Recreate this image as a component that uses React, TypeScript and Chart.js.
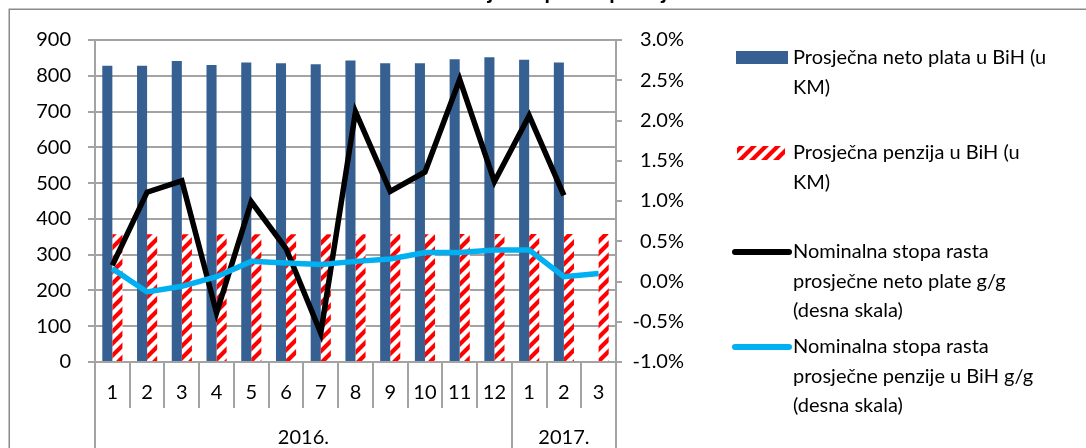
import React, { useEffect, useRef } from 'react';
import { Chart, registerables } from 'chart.js';

Chart.register(...registerables);

// ---------- data ----------
const months = ['1', '2', '3', '4', '5', '6', '7', '8', '9', '10', '11', '12', '1', '2', '3'];
const years = ['2016.', '2017.'];
const yearSpans = [12, 3];

const netWage = [828, 828, 841, 830, 837, 835, 832, 843, 835, 835, 846, 852, 845, 837, null];
const pension = [357, 357, 357, 357, 357, 357, 357, 357, 357, 357, 358, 358, 358, 358, 358];
const wageGrowth = [0.2, 1.11, 1.25, -0.39, 0.99, 0.41, -0.64, 2.11, 1.12, 1.36, 2.51, 1.24, 2.06, 1.07, null];
const pensionGrowth = [0.16, -0.13, -0.06, 0.06, 0.25, 0.23, 0.21, 0.25, 0.28, 0.36, 0.36, 0.39, 0.39, 0.06, 0.1];

const leftAxis = [0, 900, 100]; // min, max, step
const rightAxis = [-1, 3, 0.5];

const seriesLabels = [
  ['Prosječna neto plata u BiH (u', 'KM)'],
  ['Prosječna penzija u BiH (u', 'KM)'],
  ['Nominalna stopa rasta', 'prosječne neto plate g/g', '(desna skala)'],
  ['Nominalna stopa rasta', 'prosječne penzije u BiH g/g', '(desna skala)'],
];
const titleText = 'Prosječna plata i penzija u BiH';

// ---------- styles ----------
const FONT = 'Lato, "Noto Sans", sans-serif';
const BLUE = '#376092';
const RED = '#ff0000';
const BLACK = '#000000';
const CYAN = '#00b0f0';
const GRID = '#a3a3a3';

function makeHatch(): CanvasPattern | string {
  const c = document.createElement('canvas');
  c.width = 12;
  c.height = 12;
  const g = c.getContext('2d');
  if (!g) return RED;
  g.fillStyle = '#ffffff';
  g.fillRect(0, 0, 12, 12);
  g.strokeStyle = RED;
  g.lineWidth = 4.2;
  g.beginPath();
  g.moveTo(-3, 15);
  g.lineTo(15, -3);
  g.moveTo(-9, 9);
  g.lineTo(9, -9);
  g.moveTo(3, 21);
  g.lineTo(21, 3);
  g.stroke();
  return g.createPattern(c, 'repeat') || RED;
}

export default function App() {
  const ref = useRef<HTMLCanvasElement>(null);

  useEffect(() => {
    const canvas = ref.current;
    if (!canvas) return;
    const hatch = makeHatch();

    const decor = {
      id: 'decor',
      afterDraw(chart: any) {
        const { ctx, chartArea } = chart;
        const xs = chart.scales.x;
        ctx.save();

        // outer frame
        ctx.strokeStyle = '#8a8a8a';
        ctx.lineWidth = 1.5;
        ctx.strokeRect(9.25, 9.25, 2000, 2000);

        // title (cut off at the top)
        ctx.fillStyle = '#000';
        ctx.font = `bold 22px ${FONT}`;
        ctx.textAlign = 'left';
        ctx.textBaseline = 'alphabetic';
        const pre = ctx.measureText('Prosje').width;
        ctx.fillText(titleText, 505 - pre, -1.5);

        // year level of the category axis
        const half = (xs.getPixelForValue(1) - xs.getPixelForValue(0)) / 2;
        const edges = [xs.getPixelForValue(0) - half];
        let acc = 0;
        yearSpans.forEach((n) => {
          acc += n;
          edges.push(xs.getPixelForValue(acc - 1) + half);
        });
        ctx.strokeStyle = GRID;
        ctx.lineWidth = 2;
        edges.forEach((e) => {
          ctx.beginPath();
          ctx.moveTo(Math.round(e), chartArea.bottom);
          ctx.lineTo(Math.round(e), chart.height);
          ctx.stroke();
        });
        ctx.fillStyle = '#000';
        ctx.font = `20px ${FONT}`;
        ctx.textAlign = 'center';
        ctx.textBaseline = 'middle';
        years.forEach((yr, i) => {
          ctx.fillText(yr, (edges[i] + edges[i + 1]) / 2, chartArea.bottom + 76);
        });

        // legend
        const itemY = [58, 153, 252, 347];
        const lineGap = 29.5;
        const fills = [BLUE, hatch, BLACK, CYAN];
        seriesLabels.forEach((lines, i) => {
          const y = itemY[i];
          if (i === 0) {
            ctx.fillStyle = BLUE;
            ctx.fillRect(736, y - 7, 52, 13);
          } else if (i === 1) {
            ctx.fillStyle = fills[1];
            ctx.fillRect(737, y - 7, 48, 14);
          } else {
            ctx.strokeStyle = fills[i] as string;
            ctx.lineWidth = 6;
            ctx.lineCap = 'round';
            ctx.beginPath();
            ctx.moveTo(735, y);
            ctx.lineTo(789, y);
            ctx.stroke();
          }
          ctx.fillStyle = '#000';
          ctx.font = `20px ${FONT}`;
          ctx.textAlign = 'left';
          ctx.textBaseline = 'middle';
          lines.forEach((t, k) => ctx.fillText(t, 793, y + k * lineGap));
        });
        ctx.restore();
      },
    };

    const tickFont = { family: FONT, size: 20 };

    const chart = new Chart(canvas, {
      type: 'bar',
      data: {
        labels: months,
        datasets: [
          {
            type: 'bar',
            label: seriesLabels[0].join(' '),
            data: netWage as any,
            backgroundColor: BLUE,
            yAxisID: 'y',
            order: 3,
            categoryPercentage: 0.58,
            barPercentage: 1,
          },
          {
            type: 'bar',
            label: seriesLabels[1].join(' '),
            data: pension as any,
            backgroundColor: hatch as any,
            yAxisID: 'y',
            order: 4,
            categoryPercentage: 0.58,
            barPercentage: 1,
          },
          {
            type: 'line',
            label: seriesLabels[2].join(' '),
            data: wageGrowth as any,
            borderColor: BLACK,
            borderWidth: 5.5,
            pointRadius: 0,
            tension: 0,
            yAxisID: 'y2',
            order: 1,
            borderJoinStyle: 'miter',
          },
          {
            type: 'line',
            label: seriesLabels[3].join(' '),
            data: pensionGrowth as any,
            borderColor: CYAN,
            borderWidth: 5.5,
            pointRadius: 0,
            tension: 0,
            yAxisID: 'y2',
            order: 0,
          },
        ],
      },
      options: {
        responsive: false,
        animation: false,
        events: [],
        layout: { padding: { top: 40, left: 0, right: 402, bottom: 0 } },
        plugins: {
          legend: { display: false },
          tooltip: { enabled: false },
          title: { display: false },
        },
        scales: {
          x: {
            type: 'category',
            offset: true,
            grid: {
              offset: true,
              drawOnChartArea: false,
              drawTicks: true,
              tickLength: 46,
              color: GRID,
              lineWidth: 2,
            },
            border: { display: true, color: GRID, width: 2 },
            ticks: {
              font: tickFont,
              color: '#000',
              padding: -27,
              maxRotation: 0,
              autoSkip: false,
            },
            afterFit: (s: any) => {
              s.height = 86;
            },
          },
          y: {
            position: 'left',
            min: leftAxis[0],
            max: leftAxis[1],
            ticks: {
              stepSize: leftAxis[2],
              font: tickFont,
              color: '#000',
              padding: 17,
            },
            grid: { color: GRID, lineWidth: 2, tickLength: 7, drawTicks: true },
            border: { display: true, color: GRID, width: 2 },
            afterFit: (s: any) => {
              s.width = 95;
            },
          },
          y2: {
            position: 'right',
            min: rightAxis[0],
            max: rightAxis[1],
            ticks: {
              stepSize: rightAxis[2],
              font: tickFont,
              color: '#000',
              padding: 11,
              crossAlign: 'far',
              callback: (v: any) => Number(v).toFixed(1) + '%',
            },
            grid: { drawOnChartArea: false, color: GRID, lineWidth: 2, tickLength: 6, drawTicks: true },
            border: { display: true, color: GRID, width: 2 },
            afterFit: (s: any) => {
              s.width = 68;
            },
          },
        },
      } as any,
      plugins: [decor],
    });

    return () => chart.destroy();
  }, []);

  return (
    <div style={{ position: 'absolute', left: 0, top: 0, width: 1086, height: 448, background: '#fff' }}>
      <canvas ref={ref} width={1086} height={448} style={{ display: 'block' }} />
    </div>
  );
}
